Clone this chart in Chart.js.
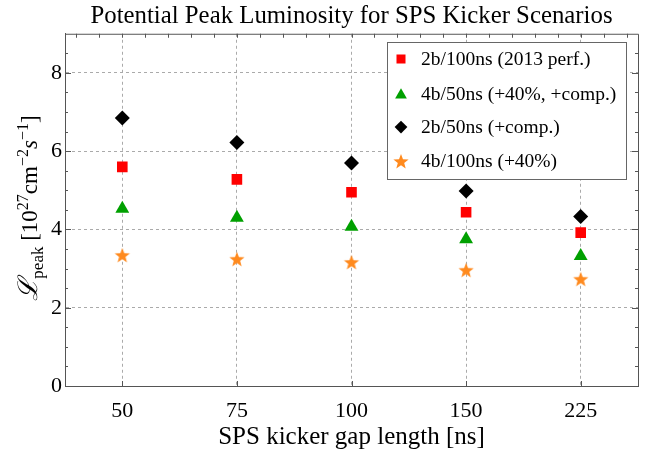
<!DOCTYPE html>
<html>
<head>
<meta charset="utf-8">
<script src="https://cdn.jsdelivr.net/npm/chart.js@4/dist/chart.umd.min.js"></script>
<style>
  html, body { margin: 0; padding: 0; background: #fff; }
  #wrap { width: 648px; height: 454px; }
</style>
</head>
<body>
<div id="wrap"><canvas id="myChart" width="648" height="454"></canvas></div>
<script>
// gap lengths on the x axis and peak luminosity per scenario
var gapLengths = ['50', '75', '100', '150', '225']
var lumi2b100 = [5.60, 5.28, 4.95, 4.44, 3.92]
var lumi4b50 = [4.53, 4.30, 4.07, 3.75, 3.32]
var lumi2b50 = [6.85, 6.22, 5.70, 4.98, 4.33]
var lumi4b100 = [3.35, 3.25, 3.17, 2.97, 2.74]
var yTicks = [0, 2, 4, 6, 8]

var serif = "'Liberation Serif', 'DejaVu Serif', serif"

// filled five point star, chart.js only has the line version
function makeStar(r, color) {
    var c = document.createElement('canvas')
    c.width = r * 2 + 2
    c.height = r * 2 + 2
    var g = c.getContext('2d')
    g.fillStyle = color
    g.beginPath()
    for (var i = 0; i < 10; i++) {
        var rad = i % 2 == 0 ? r : r * 0.42
        var a = -Math.PI / 2 + i * Math.PI / 5
        var px = c.width / 2 + rad * Math.cos(a)
        var py = c.height / 2 + 1 + rad * Math.sin(a)
        if (i == 0) g.moveTo(px, py)
        else g.lineTo(px, py)
    }
    g.closePath()
    g.fill()
    return c
}
var starImg = makeStar(8, '#ff8a1e')

function series(label, data, style, color, radius) {
    return {
        label: label,
        data: data,
        showLine: false,
        pointStyle: style,
        pointRadius: radius,
        pointHoverRadius: radius,
        pointBackgroundColor: color,
        pointBorderColor: color,
        pointBorderWidth: 0,
        backgroundColor: color,
        borderColor: color
    }
}

// frame on top/right plus small inward ticks
var framePlugin = {
    id: 'frame',
    beforeDatasetsDraw: function (chart) {
        var ctx = chart.ctx
        var a = chart.chartArea
        var y = chart.scales.y
        var x = chart.scales.x
        ctx.save()
        ctx.strokeStyle = '#555'
        ctx.lineWidth = 1
        ctx.beginPath()
        ctx.moveTo(a.left, a.top + 0.5)
        ctx.lineTo(a.right + 0.5, a.top + 0.5)
        ctx.lineTo(a.right + 0.5, a.bottom)
        for (var v = 0.5; v < 9; v += 0.5) {
            var py = Math.round(y.getPixelForValue(v)) + 0.5
            var len = (v % 2 == 0) ? 6 : 3
            ctx.moveTo(a.left, py)
            ctx.lineTo(a.left + len, py)
            ctx.moveTo(a.right, py)
            ctx.lineTo(a.right - len, py)
        }
        var step = (x.getPixelForValue(1) - x.getPixelForValue(0)) / 5
        for (var px = x.getPixelForValue(0) - 2 * step; px < a.right; px += step) {
            if (px <= a.left + 1) continue
            var xx = Math.round(px) + 0.5
            ctx.moveTo(xx, a.top)
            ctx.lineTo(xx, a.top + 4)
        }
        for (var i = 0; i < gapLengths.length; i++) {
            var bx = Math.round(x.getPixelForValue(i)) + 0.5
            ctx.moveTo(bx, a.bottom)
            ctx.lineTo(bx, a.bottom - 5)
        }
        ctx.stroke()
        ctx.restore()
    }
}

// legend box inside the plot area
var boxLegend = {
    id: 'boxLegend',
    afterDatasetsDraw: function (chart) {
        var ctx = chart.ctx
        var left = 387, top = 42, w = 239, h = 137
        var rows = [59, 94, 127, 161]
        ctx.save()
        ctx.fillStyle = '#fff'
        ctx.fillRect(left, top, w, h)
        ctx.strokeStyle = '#666'
        ctx.lineWidth = 1
        ctx.strokeRect(left + 0.5, top + 0.5, w, h)
        ctx.font = '19.5px ' + serif
        ctx.textBaseline = 'middle'
        ctx.fillStyle = '#000'
        chart.data.datasets.forEach(function (ds, i) {
            var r = ds.pointRadius
            ctx.fillStyle = ds.pointBackgroundColor
            ctx.strokeStyle = ds.pointBorderColor
            if (Chart.helpers && Chart.helpers.drawPoint) {
                Chart.helpers.drawPoint(ctx, {
                    pointStyle: ds.pointStyle,
                    radius: r * 0.85,
                    rotation: 0,
                    borderWidth: 0
                }, 401, rows[i] + (ds.pointStyle == 'triangle' ? 1 : 0))
            }
            ctx.fillStyle = '#000'
            ctx.fillText(ds.label, 421, rows[i] + 1)
        })
        ctx.restore()
    }
}

// rotated y title with sub/superscripts
var yTitle = {
    id: 'yTitle',
    afterDraw: function (chart) {
        var ctx = chart.ctx
        var parts = [
            { t: '\u2112', f: 'italic 27px ' + serif, dy: 0 },
            { t: 'peak', f: '17px ' + serif, dy: 6 },
            { t: ' [10', f: '23px ' + serif, dy: 0 },
            { t: '27', f: '16px ' + serif, dy: -9 },
            { t: 'cm', f: '23px ' + serif, dy: 0 },
            { t: '\u22122', f: '16px ' + serif, dy: -9 },
            { t: 's', f: 'italic 23px ' + serif, dy: 0 },
            { t: '\u22121', f: '16px ' + serif, dy: -9 },
            { t: ']', f: '23px ' + serif, dy: 0 }
        ]
        ctx.save()
        var total = 0
        parts.forEach(function (p) {
            ctx.font = p.f
            p.w = ctx.measureText(p.t).width
            total += p.w
        })
        ctx.translate(37, 208)
        ctx.rotate(-Math.PI / 2)
        ctx.fillStyle = '#000'
        ctx.textBaseline = 'alphabetic'
        var cx = -total / 2
        parts.forEach(function (p) {
            ctx.font = p.f
            ctx.fillText(p.t, cx, p.dy)
            cx += p.w
        })
        ctx.restore()
    }
}

var chart = new Chart('myChart', {
    type: 'line',
    data: {
        labels: gapLengths,
        datasets: [
            series('2b/100ns (2013 perf.)', lumi2b100, 'rect', '#ff0000', 7.5),
            series('4b/50ns (+40%, +comp.)', lumi4b50, 'triangle', '#00a000', 8),
            series('2b/50ns (+comp.)', lumi2b50, 'rectRot', '#000000', 7.5),
            series('4b/100ns (+40%)', lumi4b100, starImg, '#ff8a1e', 8)
        ]
    },
    options: {
        responsive: false,
        animation: false,
        layout: { padding: { top: 0, right: 10, left: 0, bottom: 0 } },
        plugins: {
            legend: { display: false },
            tooltip: { enabled: false },
            title: {
                display: true,
                fullSize: false,
                text: 'Potential Peak Luminosity for SPS Kicker Scenarios',
                color: '#000',
                font: { family: serif, size: 24.8, weight: 'normal' },
                padding: { top: 2, bottom: 2 }
            }
        },
        scales: {
            x: {
                type: 'category',
                offset: true,
                grid: { color: '#aaaaaa', drawTicks: false, offset: false },
                border: { display: true, color: '#555', width: 1, dash: [3, 3] },
                ticks: { color: '#000', padding: 12, font: { family: serif, size: 22 } },
                title: {
                    display: true,
                    text: 'SPS kicker gap length [ns]',
                    color: '#000',
                    font: { family: serif, size: 25 },
                    padding: { top: 0, bottom: 2 }
                },
                afterFit: function (scale) { scale.height = 68 }
            },
            y: {
                min: 0,
                max: 9,
                grid: { color: '#aaaaaa', drawTicks: false },
                border: { display: true, color: '#555', width: 1, dash: [3, 3] },
                ticks: { color: '#000', padding: 3, font: { family: serif, size: 22 } },
                afterBuildTicks: function (scale) {
                    scale.ticks = yTicks.map(function (v) { return { value: v } })
                },
                afterFit: function (scale) { scale.width = 65 }
            }
        }
    },
    plugins: [framePlugin, boxLegend, yTitle]
})
</script>
</body>
</html>
